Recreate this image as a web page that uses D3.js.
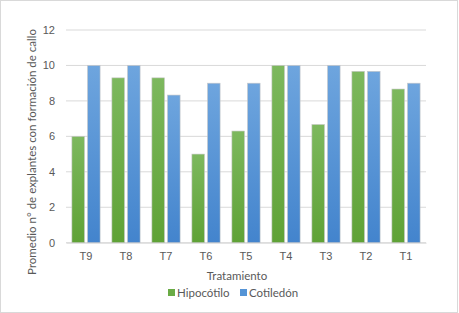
<!DOCTYPE html>
<html>
<head>
<meta charset="utf-8">
<script src="https://cdn.jsdelivr.net/npm/d3@7"></script>
<style>
  body { margin: 0; background: #fff; }
  svg { display: block; font-family: Lato, "Open Sans", sans-serif; }
</style>
</head>
<body>
<svg width="459" height="313"></svg>
<script>
// chart values
const treatments = ['T9', 'T8', 'T7', 'T6', 'T5', 'T4', 'T3', 'T2', 'T1'];
const hipocotilo = [6, 9.3, 9.3, 5, 6.3, 10, 6.67, 9.67, 8.67];
const cotiledon = [10, 10, 8.33, 9, 9, 10, 10, 9.67, 9];
const yTicks = [0, 2, 4, 6, 8, 10, 12];
const seriesNames = ['Hipocótilo', 'Cotiledón'];

const svg = d3.select('svg');
const margin = {top: 30, left: 66, right: 33, bottom: 70};
const width = 459, height = 313;
const innerWidth = width - margin.left - margin.right;
const innerHeight = 242.7 - margin.top;
const textColor = '#595959';

// outer border
svg.append('rect')
  .attr('x', 0.5).attr('y', 0.5)
  .attr('width', width - 2).attr('height', height - 1)
  .attr('fill', 'none').attr('stroke', '#d9d9d9');

// gradients, like the excel fill
const defs = svg.append('defs');
function grad(id, top, bottom) {
  const lg = defs.append('linearGradient').attr('id', id)
    .attr('x1', 0).attr('y1', 0).attr('x2', 0).attr('y2', 1);
  lg.append('stop').attr('offset', '0%').attr('stop-color', top);
  lg.append('stop').attr('offset', '100%').attr('stop-color', bottom);
}
grad('gGreen', '#7db85e', '#5fa236');
grad('gBlue', '#6ea5de', '#4384cd');
const fills = ['url(#gGreen)', 'url(#gBlue)'];
const legendColors = ['#6aab45', '#5594d6'];

const g = svg.append('g').attr('transform', `translate(${margin.left}, ${margin.top})`);

const xScale = d3.scaleBand().domain(treatments).range([0, innerWidth]).paddingInner(0).paddingOuter(0);
const yScale = d3.scaleLinear().domain([0, 12]).range([innerHeight, 0]);

// gridlines
g.selectAll('.grid')
  .data(yTicks)
  .join('line')
  .attr('class', 'grid')
  .attr('x1', 0).attr('x2', innerWidth)
  .attr('y1', d => yScale(d)).attr('y2', d => yScale(d))
  .attr('stroke', '#d9d9d9').attr('stroke-width', 1);

// y axis labels
const yAxis = g.append('g').call(d3.axisLeft(yScale).tickValues(yTicks).tickSize(0).tickPadding(11));
yAxis.select('.domain').remove();
yAxis.selectAll('text').attr('fill', textColor).style('font-size', '11px');

// x axis labels
const xAxis = g.append('g')
  .attr('transform', `translate(0, ${innerHeight})`)
  .call(d3.axisBottom(xScale).tickSize(0).tickPadding(10));
xAxis.select('.domain').attr('stroke', '#d9d9d9');
xAxis.selectAll('text').attr('fill', textColor).style('font-size', '11px');

// bars
const barW = 12.6, gap = 3;
const rows = treatments.map((t, i) => ({t: t, vals: [hipocotilo[i], cotiledon[i]]}));
const groups = g.selectAll('.grp')
  .data(rows)
  .join('g')
  .attr('class', 'grp')
  .attr('transform', d => `translate(${xScale(d.t) + (xScale.bandwidth() - 2 * barW - gap) / 2}, 0)`);

groups.selectAll('rect')
  .data(d => d.vals)
  .join('rect')
  .attr('x', (d, j) => j * (barW + gap))
  .attr('y', d => yScale(d))
  .attr('width', barW)
  .attr('height', d => innerHeight - yScale(d))
  .attr('fill', (d, j) => fills[j])
  .attr('stroke', '#c8c8c8').attr('stroke-width', 0.6);

// axis titles
g.append('text')
  .attr('x', innerWidth / 2 - 9)
  .attr('y', innerHeight + 37)
  .attr('text-anchor', 'middle')
  .attr('fill', textColor)
  .style('font-size', '11.5px')
  .text('Tratamiento');

svg.append('text')
  .attr('transform', 'rotate(-90)')
  .attr('x', -152)
  .attr('y', 36)
  .attr('text-anchor', 'middle')
  .attr('fill', textColor)
  .style('font-size', '11.5px')
  .text('Promedio n° de explantes con formación de callo');

// legend
const legendX = [168, 240];
seriesNames.forEach((name, i) => {
  svg.append('rect')
    .attr('x', legendX[i]).attr('y', 289)
    .attr('width', 7).attr('height', 7)
    .attr('fill', legendColors[i]);
  svg.append('text')
    .attr('x', legendX[i] + 9).attr('y', 296.5)
    .attr('fill', textColor)
    .style('font-size', '11.5px')
    .text(name);
});
</script>
</body>
</html>
